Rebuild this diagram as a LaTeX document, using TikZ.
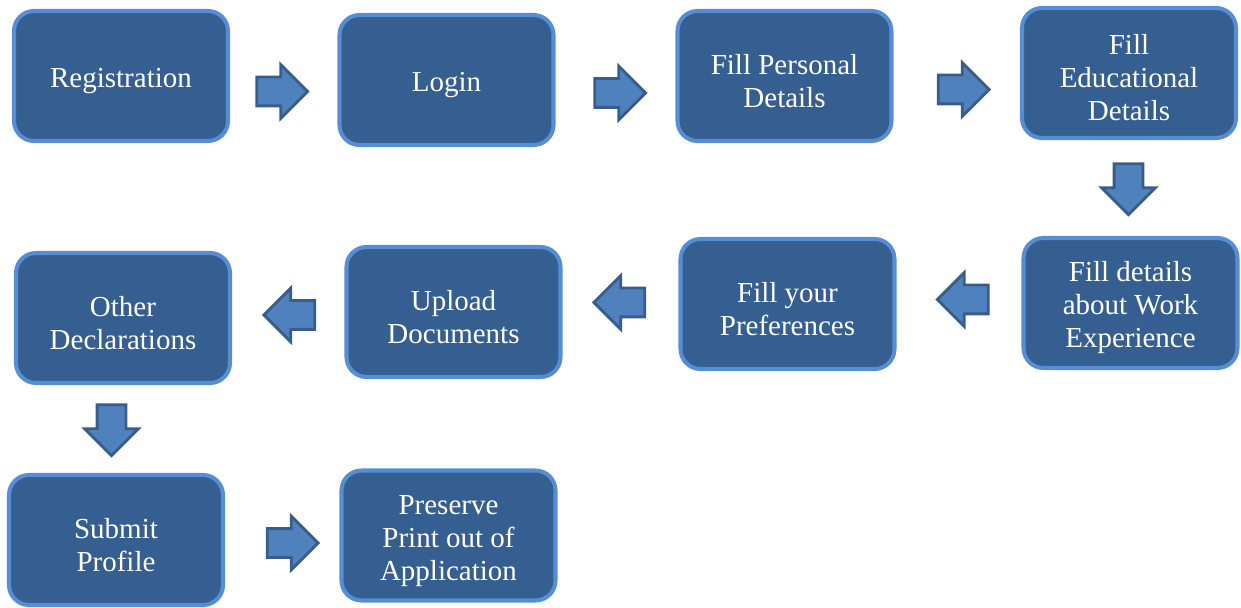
\documentclass[tikz,border=0pt]{standalone}
\usepackage{fontspec}
\setmainfont{Liberation Serif}
\usepackage{tikz}
\usetikzlibrary{arrows.meta,shapes.arrows,positioning}
\definecolor{BoxFill}{RGB}{54,95,145}
\definecolor{BoxLine}{RGB}{85,142,213}
\definecolor{ArrFill}{RGB}{79,129,189}
\definecolor{ArrLine}{RGB}{56,93,138}

\begin{document}
\begin{tikzpicture}[
  stepbox/.style={draw=BoxLine,line width=2.3pt,rounded corners=0.4cm,fill=BoxFill,
    text=white,text width=4.2cm,align=flush center,minimum width=4.28cm,minimum height=2.6cm,
    inner sep=0pt,font=\fontsize{16.5}{18.8}\selectfont,
    execute at begin node={\rule{0pt}{17pt}}},
  flowarrow/.style={single arrow,draw=ArrLine,fill=ArrFill,line width=1.6pt,
    minimum height=1.02cm,minimum width=1.04cm,inner sep=0.26cm,
    single arrow head extend=0.25cm,single arrow tip angle=90}
]
\useasboundingbox (0,0) rectangle (24.82,-12.16);
\node[stepbox] (reg)  at (2.42,-1.52)  {Registration};
\node[stepbox] (login) at (8.93,-1.60) {Login};
\node[stepbox] (pers) at (15.69,-1.52) {Fill Personal\\Details};
\node[stepbox] (edu)  at (22.58,-1.46) {Fill\\Educational\\Details};
\node[stepbox] (work) at (22.61,-6.06) {Fill details\\about Work\\Experience};
\node[stepbox] (pref) at (15.75,-6.08) {Fill your\\Preferences};
\node[stepbox] (upl)  at (9.07,-6.24)  {Upload\\Documents};
\node[stepbox] (decl) at (2.46,-6.36)  {Other\\Declarations};
\node[stepbox] (subm) at (2.32,-10.80) {Submit\\Profile};
\node[stepbox] (pres) at (8.97,-10.71) {Preserve\\Print out of\\Application};
% block arrows between the steps
\node[flowarrow] (a1) at (5.50,-1.83) {};
\node[flowarrow] (a2) at (12.26,-1.86) {};
\node[flowarrow] (a3) at (19.13,-1.79) {};
\node[flowarrow,shape border rotate=270] (a4) at (22.57,-3.64) {};
\node[flowarrow,shape border rotate=180] (a5) at (19.40,-5.99) {};
\node[flowarrow,shape border rotate=180] (a6) at (12.53,-6.05) {};
\node[flowarrow,shape border rotate=180] (a7) at (5.93,-6.30) {};
\node[flowarrow,shape border rotate=270] (a8) at (2.23,-8.46) {};
\node[flowarrow] (a9) at (5.71,-10.86) {};
\end{tikzpicture}
\end{document}
